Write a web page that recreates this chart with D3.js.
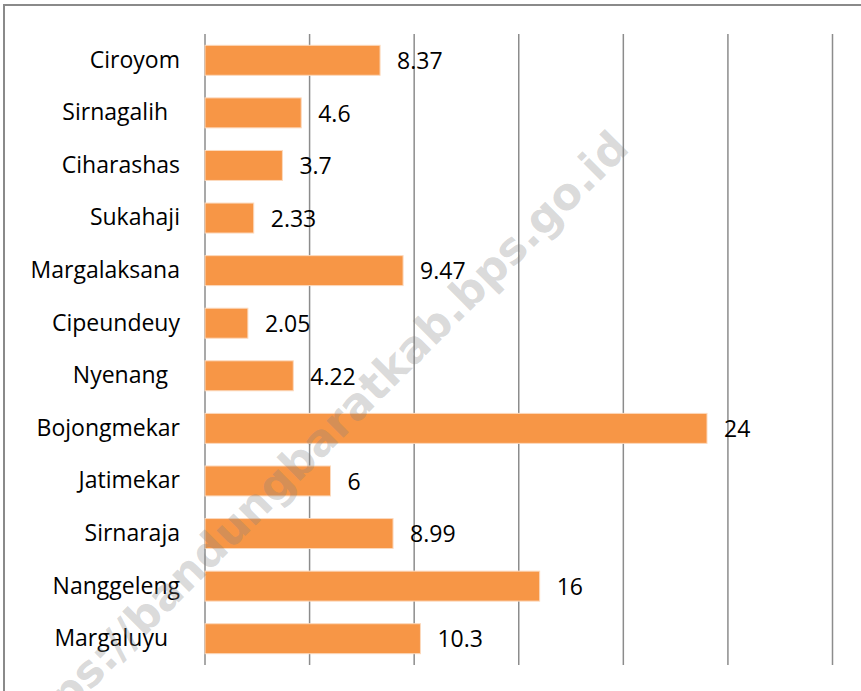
<!DOCTYPE html>
<html>
<head>
<meta charset="utf-8">
<script src="https://cdn.jsdelivr.net/npm/d3@7"></script>
<style>
  body { margin: 0; background: #fff; }
  text { white-space: pre; }
</style>
</head>
<body>
<div id="my_dataviz"></div>
<script>
// data
var villages = ["Ciroyom", "Sirnagalih  ", "Ciharashas", "Sukahaji", "Margalaksana",
                "Cipeundeuy", "Nyenang  ", "Bojongmekar", "Jatimekar", "Sirnaraja",
                "Nanggeleng", "Margaluyu  "];
var values = [8.37, 4.6, 3.7, 2.33, 9.47, 2.05, 4.22, 24, 6, 8.99, 16, 10.3];
var valueLabels = ["8.37", "4.6", "3.7", "2.33", "9.47", "2.05", "4.22", "24", "6", "8.99", "16", "10.3"];
var xTicks = [0, 5, 10, 15, 20, 25, 30];
var watermark = "https://bandungbaratkab.bps.go.id";

var W = 861, H = 691;
var margin = {top: 34, left: 205, right: 28, bottom: 26};

var svg = d3.select("#my_dataviz")
  .append("svg")
    .attr("width", W)
    .attr("height", H);

// outer frame
svg.append("rect")
  .attr("x", 4).attr("y", 5)
  .attr("width", W + 20).attr("height", H + 20)
  .attr("fill", "none")
  .attr("stroke", "#8a8a8a")
  .attr("stroke-width", 2);

var x = d3.scaleLinear()
  .domain([0, 30])
  .range([margin.left, W - margin.right - 0.5]);

var y = d3.scaleBand()
  .domain(villages)
  .range([margin.top, H - margin.bottom])
  .paddingInner(0.43)
  .paddingOuter(0.215);

// vertical gridlines
svg.append("g")
  .selectAll("line")
  .data(xTicks)
  .enter()
  .append("line")
    .attr("x1", function(d) { return x(d); })
    .attr("x2", function(d) { return x(d); })
    .attr("y1", margin.top)
    .attr("y2", H - margin.bottom)
    .attr("stroke", "#8c8c8c")
    .attr("stroke-width", 1.5);

// bars
svg.append("g")
  .selectAll("rect")
  .data(values)
  .enter()
  .append("rect")
    .attr("x", x(0))
    .attr("y", function(d, i) { return y(villages[i]); })
    .attr("width", function(d) { return x(d) - x(0); })
    .attr("height", y.bandwidth())
    .attr("fill", "#f79646")
    .attr("stroke", "#fcd9bd")
    .attr("stroke-width", 1);

// category labels
svg.append("g")
  .attr("transform", "translate(" + x(0) + ",0)")
  .call(d3.axisLeft(y).tickSize(0).tickPadding(25))
  .call(function(g) { g.select(".domain").remove(); })
  .selectAll("text")
    .attr("font-family", "'Open Sans', sans-serif")
    .attr("font-size", 23)
    .attr("fill", "#000");

// value labels
svg.append("g")
  .selectAll("text")
  .data(values)
  .enter()
  .append("text")
    .attr("x", function(d) { return x(d) + 17; })
    .attr("y", function(d, i) { return y(villages[i]) + y.bandwidth() / 2; })
    .attr("dy", "0.38em")
    .attr("font-family", "'Open Sans', sans-serif")
    .attr("font-size", 23)
    .attr("fill", "#000")
    .text(function(d, i) { return valueLabels[i]; });

// watermark
svg.append("text")
  .attr("transform", "translate(631,150) rotate(-45)")
  .attr("text-anchor", "end")
  .attr("font-family", "'DejaVu Sans', sans-serif")
  .attr("font-weight", "bold")
  .attr("font-size", 44)
  .attr("fill", "#808080")
  .attr("fill-opacity", 0.3)
  .text(watermark);
</script>
</body>
</html>
